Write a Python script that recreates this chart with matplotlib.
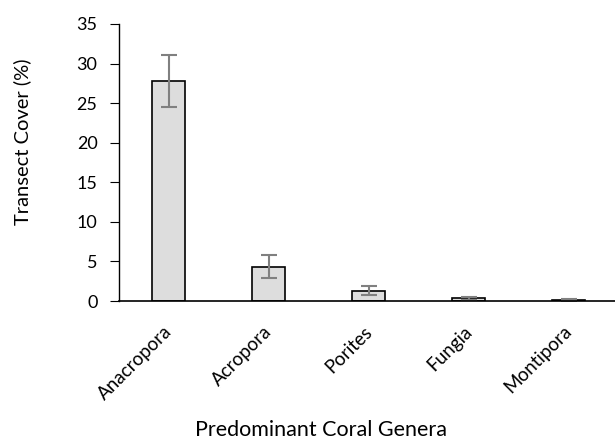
import matplotlib.pyplot as plt

genera = ['Anacropora', 'Acropora', 'Porites', 'Fungia', 'Montipora']
cover = [27.8, 4.3, 1.3, 0.35, 0.15]
cover_err = [3.3, 1.45, 0.55, 0.2, 0.1]

plt.rcParams['font.family'] = ['Lato', 'DejaVu Sans']

fig = plt.figure(figsize=(6.15, 4.41), dpi=100)
ax = fig.add_axes([119 / 615, 1 - 301 / 441, 500 / 615, 277 / 441])

ax.bar(range(len(genera)), cover, width=0.33, color='#dddddd', edgecolor='black',
       linewidth=1.2, yerr=cover_err, error_kw=dict(ecolor='#808080', elinewidth=1.5,
                                                   capsize=5.8, capthick=1.5))

ax.set_xlim(-0.5, 4.5)
ax.set_ylim(0, 35)
ax.set_yticks(range(0, 36, 5))
ax.set_xticks(range(len(genera)))
ax.set_xticklabels(genera, rotation=45, ha='right', va='center',
                   rotation_mode='anchor', fontsize=13.5)
ax.tick_params(axis='x', length=0, pad=20)
ax.tick_params(axis='y', length=6.5, width=0.8, labelsize=13, pad=9, direction='out')
ax.spines['top'].set_visible(False)
ax.spines['right'].set_visible(False)
ax.spines['left'].set_linewidth(1.0)
ax.spines['bottom'].set_linewidth(1.2)

fig.text(22 / 615, 1 - 142 / 441, 'Transect Cover (%)', rotation=90,
         ha='center', va='center', fontsize=14.5)
fig.text(321 / 615, 1 - 430 / 441, 'Predominant Coral Genera',
         ha='center', va='center', fontsize=15.5)

fig.savefig('out.png', dpi=100)
